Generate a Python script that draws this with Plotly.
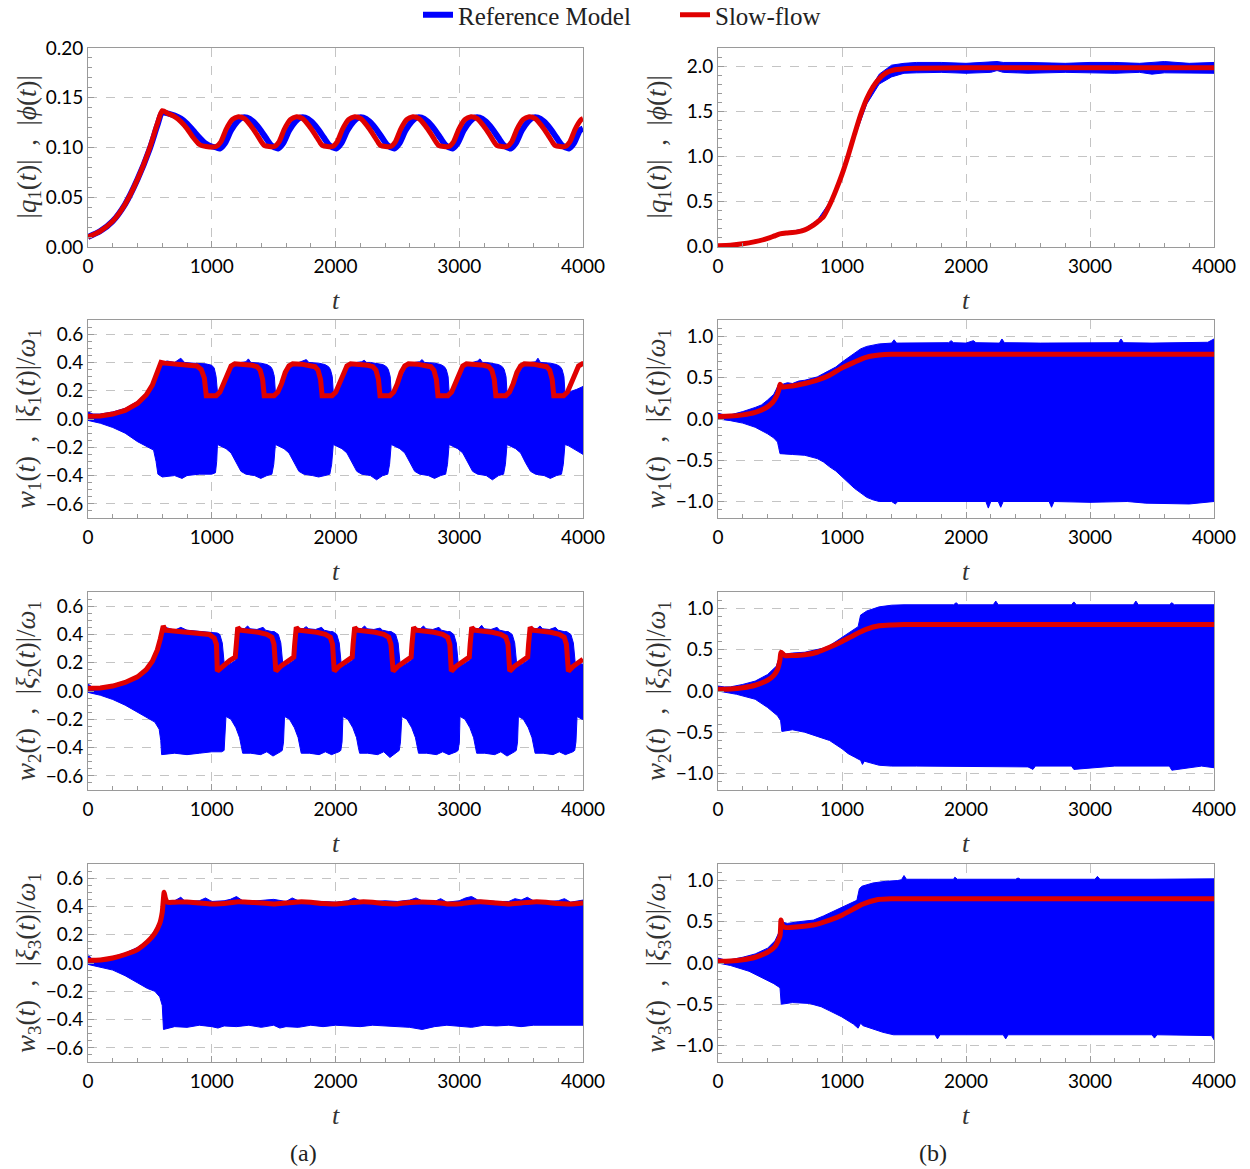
import plotly.graph_objects as go

BLUE = "#0000FF"
RED = "#E00000"

# ---------------- Panel (a), row 1 : |q1(t)| , |phi(t)| ----------------
a1_red_t = [0, 100, 200, 300, 400, 500, 560, 600, 650, 700, 750, 800, 850, 900, 955,
            1035, 1075, 1115, 1165, 1215, 1265, 1315, 1365, 1405, 1425,
            1505, 1545, 1585, 1635, 1685, 1735, 1785, 1835, 1875, 1895,
            1975, 2015, 2055, 2105, 2155, 2205, 2255, 2305, 2345, 2365,
            2445, 2485, 2525, 2575, 2625, 2675, 2725, 2775, 2815, 2835,
            2915, 2955, 2995, 3045, 3095, 3145, 3195, 3245, 3285, 3305,
            3385, 3425, 3465, 3515, 3565, 3615, 3665, 3715, 3755, 3775,
            3855, 3895, 3935, 3985, 4000]
a1_red = [0.010, 0.016, 0.026, 0.043, 0.068, 0.100, 0.124, 0.137, 0.134, 0.131, 0.126, 0.119, 0.110, 0.103, 0.101,
          0.101, 0.106, 0.118, 0.128, 0.131, 0.129, 0.122, 0.113, 0.105, 0.102,
          0.101, 0.106, 0.118, 0.128, 0.131, 0.129, 0.122, 0.113, 0.105, 0.102,
          0.101, 0.106, 0.118, 0.128, 0.131, 0.129, 0.122, 0.113, 0.105, 0.102,
          0.101, 0.106, 0.118, 0.128, 0.131, 0.129, 0.122, 0.113, 0.105, 0.102,
          0.101, 0.106, 0.118, 0.128, 0.131, 0.129, 0.122, 0.113, 0.105, 0.102,
          0.101, 0.106, 0.118, 0.128, 0.131, 0.129, 0.122, 0.113, 0.105, 0.102,
          0.101, 0.106, 0.118, 0.128, 0.129]
a1_blue_t = [0, 100, 200, 300, 400, 500, 560, 600, 650, 700, 750, 800, 850, 900, 950, 1000,
             1040, 1065, 1105, 1155, 1205, 1245, 1285, 1335, 1385, 1435, 1475,
             1510, 1535, 1575, 1625, 1675, 1715, 1755, 1805, 1855, 1905, 1945,
             1980, 2005, 2045, 2095, 2145, 2185, 2225, 2275, 2325, 2375, 2415,
             2450, 2475, 2515, 2565, 2615, 2655, 2695, 2745, 2795, 2845, 2885,
             2920, 2945, 2985, 3035, 3085, 3125, 3165, 3215, 3265, 3315, 3355,
             3390, 3415, 3455, 3505, 3555, 3595, 3635, 3685, 3735, 3785, 3825,
             3860, 3885, 3925, 3975, 4000]
a1_blue = [0.010, 0.016, 0.026, 0.043, 0.068, 0.099, 0.122, 0.135, 0.134, 0.132, 0.129, 0.124, 0.117, 0.110, 0.104, 0.101,
           0.100, 0.099, 0.104, 0.117, 0.126, 0.130, 0.130, 0.126, 0.119, 0.110, 0.103,
           0.100, 0.099, 0.104, 0.117, 0.126, 0.130, 0.130, 0.126, 0.119, 0.110, 0.103,
           0.100, 0.099, 0.104, 0.117, 0.126, 0.130, 0.130, 0.126, 0.119, 0.110, 0.103,
           0.100, 0.099, 0.104, 0.117, 0.126, 0.130, 0.130, 0.126, 0.119, 0.110, 0.103,
           0.100, 0.099, 0.104, 0.117, 0.126, 0.130, 0.130, 0.126, 0.119, 0.110, 0.103,
           0.100, 0.099, 0.104, 0.117, 0.126, 0.130, 0.130, 0.126, 0.119, 0.110, 0.103,
           0.100, 0.099, 0.104, 0.117, 0.119]

# ---------------- Panel (a), row 2 : w1(t) , |xi1(t)|/omega1 ----------------
a2_red_t = [0, 100, 200, 300, 400, 470, 520, 555, 575, 590, 620, 700, 800, 880, 915, 940,
            956, 1036, 1066, 1096, 1126, 1156, 1186, 1256, 1326, 1366, 1391, 1411,
            1424, 1504, 1534, 1564, 1594, 1624, 1654, 1724, 1794, 1834, 1859, 1879,
            1892, 1972, 2002, 2032, 2062, 2092, 2122, 2192, 2262, 2302, 2327, 2347,
            2360, 2440, 2470, 2500, 2530, 2560, 2590, 2660, 2730, 2770, 2795, 2815,
            2828, 2908, 2938, 2968, 2998, 3028, 3058, 3128, 3198, 3238, 3263, 3283,
            3296, 3376, 3406, 3436, 3466, 3496, 3526, 3596, 3666, 3706, 3731, 3751,
            3764, 3844, 3874, 3904, 3934, 3964, 3994, 4000]
a2_red = [0.02, 0.022, 0.035, 0.06, 0.11, 0.17, 0.24, 0.31, 0.37, 0.40, 0.395, 0.39, 0.385, 0.375, 0.35, 0.29,
          0.165, 0.165, 0.19, 0.25, 0.33, 0.375, 0.39, 0.388, 0.38, 0.37, 0.345, 0.28,
          0.165, 0.165, 0.19, 0.25, 0.33, 0.375, 0.39, 0.388, 0.38, 0.37, 0.345, 0.28,
          0.165, 0.165, 0.19, 0.25, 0.33, 0.375, 0.39, 0.388, 0.38, 0.37, 0.345, 0.28,
          0.165, 0.165, 0.19, 0.25, 0.33, 0.375, 0.39, 0.388, 0.38, 0.37, 0.345, 0.28,
          0.165, 0.165, 0.19, 0.25, 0.33, 0.375, 0.39, 0.388, 0.38, 0.37, 0.345, 0.28,
          0.165, 0.165, 0.19, 0.25, 0.33, 0.375, 0.39, 0.388, 0.38, 0.37, 0.345, 0.28,
          0.165, 0.165, 0.19, 0.25, 0.33, 0.375, 0.39, 0.39]
a2_up_t = [0, 40, 100, 200, 300, 400, 470, 520, 560, 585, 640, 700, 750, 780, 850, 950, 1000, 1020, 1035,
           1046, 1076, 1106, 1136, 1166, 1196, 1236, 1276, 1296, 1316, 1346, 1396, 1446, 1476, 1491, 1506,
           1514, 1544, 1574, 1604, 1634, 1664, 1704, 1744, 1764, 1784, 1814, 1864, 1914, 1944, 1959, 1974,
           1982, 2012, 2042, 2072, 2102, 2132, 2172, 2212, 2232, 2252, 2282, 2332, 2382, 2412, 2427, 2442,
           2450, 2480, 2510, 2540, 2570, 2600, 2640, 2680, 2700, 2720, 2750, 2800, 2850, 2880, 2895, 2910,
           2918, 2948, 2978, 3008, 3038, 3068, 3108, 3148, 3168, 3188, 3218, 3268, 3318, 3348, 3363, 3378,
           3386, 3416, 3446, 3476, 3506, 3536, 3576, 3616, 3636, 3656, 3686, 3736, 3786, 3816, 3831, 3846,
           3854, 3900, 3950, 4000]
a2_up = [0.05, 0.035, 0.035, 0.05, 0.075, 0.125, 0.185, 0.26, 0.34, 0.40, 0.41, 0.40, 0.43, 0.40, 0.395, 0.39, 0.38, 0.36, 0.30,
         0.19, 0.20, 0.24, 0.31, 0.36, 0.385, 0.40, 0.405, 0.425, 0.40, 0.40, 0.395, 0.385, 0.37, 0.35, 0.30,
         0.19, 0.20, 0.24, 0.31, 0.36, 0.385, 0.40, 0.41, 0.42, 0.40, 0.40, 0.395, 0.385, 0.37, 0.35, 0.30,
         0.19, 0.20, 0.24, 0.31, 0.36, 0.385, 0.40, 0.405, 0.415, 0.40, 0.40, 0.395, 0.385, 0.37, 0.35, 0.30,
         0.19, 0.20, 0.24, 0.31, 0.36, 0.385, 0.40, 0.405, 0.42, 0.40, 0.40, 0.395, 0.385, 0.37, 0.35, 0.30,
         0.19, 0.20, 0.24, 0.31, 0.36, 0.385, 0.40, 0.41, 0.425, 0.40, 0.40, 0.395, 0.385, 0.37, 0.35, 0.30,
         0.19, 0.20, 0.24, 0.31, 0.36, 0.385, 0.40, 0.405, 0.43, 0.40, 0.40, 0.395, 0.385, 0.37, 0.35, 0.30,
         0.19, 0.195, 0.21, 0.23]
a2_lo_t = [0, 100, 200, 300, 400, 460, 530, 550, 565, 600, 700, 760, 800, 900, 1000, 1030, 1040,
           1046, 1076, 1116, 1156, 1196, 1236, 1276, 1346, 1396, 1446, 1486, 1501,
           1514, 1544, 1584, 1624, 1664, 1704, 1744, 1814, 1864, 1914, 1954, 1969,
           1982, 2012, 2052, 2092, 2132, 2172, 2212, 2282, 2332, 2382, 2422, 2437,
           2450, 2480, 2520, 2560, 2600, 2640, 2680, 2750, 2800, 2850, 2890, 2905,
           2918, 2948, 2988, 3028, 3068, 3108, 3148, 3218, 3268, 3318, 3358, 3373,
           3386, 3416, 3456, 3496, 3536, 3576, 3616, 3686, 3736, 3786, 3826, 3841,
           3854, 3884, 3924, 3964, 4000]
a2_lo = [-0.01, -0.03, -0.06, -0.10, -0.16, -0.19, -0.22, -0.30, -0.39, -0.41, -0.40, -0.42, -0.40, -0.39, -0.39, -0.38, -0.30,
         -0.18, -0.19, -0.21, -0.24, -0.31, -0.37, -0.39, -0.40, -0.42, -0.40, -0.39, -0.32,
         -0.18, -0.19, -0.21, -0.24, -0.31, -0.37, -0.39, -0.40, -0.41, -0.40, -0.39, -0.32,
         -0.18, -0.19, -0.21, -0.24, -0.31, -0.37, -0.39, -0.40, -0.43, -0.40, -0.39, -0.32,
         -0.18, -0.19, -0.21, -0.24, -0.31, -0.37, -0.39, -0.40, -0.42, -0.40, -0.39, -0.32,
         -0.18, -0.19, -0.21, -0.24, -0.31, -0.37, -0.39, -0.40, -0.43, -0.40, -0.39, -0.32,
         -0.18, -0.19, -0.21, -0.24, -0.31, -0.37, -0.39, -0.40, -0.42, -0.40, -0.39, -0.32,
         -0.18, -0.19, -0.21, -0.23, -0.25]

# ---------------- Panel (a), row 3 : w2(t) , |xi2(t)|/omega1 ----------------
a3_red_t = [0, 100, 200, 300, 400, 470, 520, 560, 585, 600, 608, 625, 700, 800, 900, 980, 1020, 1038,
            1045, 1085, 1145, 1190, 1197, 1203, 1210, 1230, 1295, 1375, 1445, 1485, 1503,
            1518, 1558, 1618, 1663, 1670, 1676, 1683, 1703, 1768, 1848, 1918, 1958, 1976,
            1990, 2030, 2090, 2135, 2142, 2148, 2155, 2175, 2240, 2320, 2390, 2430, 2448,
            2466, 2506, 2566, 2611, 2618, 2624, 2631, 2651, 2716, 2796, 2866, 2906, 2924,
            2936, 2976, 3036, 3081, 3088, 3094, 3101, 3121, 3186, 3266, 3336, 3376, 3394,
            3408, 3448, 3508, 3553, 3560, 3566, 3573, 3593, 3658, 3738, 3808, 3848, 3866,
            3882, 3922, 3982, 4000]
a3_red = [0.02, 0.022, 0.035, 0.06, 0.10, 0.15, 0.21, 0.29, 0.37, 0.44, 0.46, 0.43, 0.425, 0.42, 0.41, 0.40, 0.375, 0.33,
          0.14, 0.175, 0.215, 0.24, 0.33, 0.42, 0.45, 0.43, 0.425, 0.415, 0.40, 0.38, 0.33,
          0.14, 0.175, 0.215, 0.24, 0.33, 0.42, 0.45, 0.43, 0.425, 0.415, 0.40, 0.38, 0.33,
          0.14, 0.175, 0.215, 0.24, 0.33, 0.42, 0.45, 0.43, 0.425, 0.415, 0.40, 0.38, 0.33,
          0.14, 0.175, 0.215, 0.24, 0.33, 0.42, 0.45, 0.43, 0.425, 0.415, 0.40, 0.38, 0.33,
          0.14, 0.175, 0.215, 0.24, 0.33, 0.42, 0.45, 0.43, 0.425, 0.415, 0.40, 0.38, 0.33,
          0.14, 0.175, 0.215, 0.24, 0.33, 0.42, 0.45, 0.43, 0.425, 0.415, 0.40, 0.38, 0.33,
          0.14, 0.175, 0.215, 0.225]
a3_up_t = [0, 30, 100, 200, 300, 400, 470, 520, 560, 590, 610, 700, 750, 800, 900, 1000, 1045,
           1065, 1085, 1100, 1145, 1190, 1205, 1215, 1230, 1265, 1290, 1310, 1365, 1415, 1435, 1485, 1505,
           1538, 1558, 1573, 1618, 1663, 1678, 1688, 1703, 1738, 1763, 1783, 1838, 1888, 1908, 1958, 1978,
           2010, 2030, 2045, 2090, 2135, 2150, 2160, 2175, 2210, 2235, 2255, 2310, 2360, 2380, 2430, 2450,
           2486, 2506, 2521, 2566, 2611, 2626, 2636, 2651, 2686, 2711, 2731, 2786, 2836, 2856, 2906, 2926,
           2956, 2976, 2991, 3036, 3081, 3096, 3106, 3121, 3156, 3181, 3201, 3256, 3306, 3326, 3376, 3396,
           3428, 3448, 3463, 3508, 3553, 3568, 3578, 3593, 3628, 3653, 3673, 3728, 3778, 3798, 3848, 3868,
           3902, 3922, 3937, 3982, 4000]
a3_up = [0.05, 0.03, 0.03, 0.045, 0.07, 0.11, 0.16, 0.22, 0.30, 0.40, 0.455, 0.43, 0.45, 0.43, 0.42, 0.41, 0.41,
         0.40, 0.34, 0.20, 0.19, 0.215, 0.30, 0.41, 0.445, 0.44, 0.46, 0.44, 0.435, 0.45, 0.43, 0.42, 0.42,
         0.40, 0.34, 0.20, 0.19, 0.215, 0.30, 0.41, 0.445, 0.44, 0.455, 0.44, 0.435, 0.45, 0.43, 0.42, 0.42,
         0.40, 0.34, 0.20, 0.19, 0.215, 0.30, 0.41, 0.445, 0.44, 0.46, 0.44, 0.435, 0.445, 0.43, 0.42, 0.42,
         0.40, 0.34, 0.20, 0.19, 0.215, 0.30, 0.41, 0.445, 0.44, 0.46, 0.44, 0.435, 0.45, 0.43, 0.42, 0.42,
         0.40, 0.34, 0.20, 0.19, 0.215, 0.30, 0.41, 0.445, 0.44, 0.465, 0.44, 0.435, 0.45, 0.43, 0.42, 0.42,
         0.40, 0.34, 0.20, 0.19, 0.215, 0.30, 0.41, 0.445, 0.44, 0.46, 0.44, 0.435, 0.45, 0.43, 0.42, 0.42,
         0.40, 0.34, 0.20, 0.19, 0.19]
a3_lo_t = [0, 100, 200, 300, 400, 480, 540, 575, 588, 595, 700, 800, 900, 1000, 1080, 1100, 1108,
           1115, 1155, 1195, 1225, 1240, 1250, 1315, 1395, 1445, 1495, 1555, 1570, 1580,
           1588, 1628, 1668, 1698, 1713, 1723, 1788, 1868, 1918, 1968, 2028, 2043, 2053,
           2060, 2100, 2140, 2170, 2185, 2195, 2260, 2340, 2390, 2440, 2500, 2515, 2525,
           2536, 2576, 2616, 2646, 2661, 2671, 2736, 2816, 2866, 2916, 2976, 2991, 3001,
           3006, 3046, 3086, 3116, 3131, 3141, 3206, 3286, 3336, 3386, 3446, 3461, 3471,
           3478, 3518, 3558, 3588, 3603, 3613, 3678, 3758, 3808, 3858, 3918, 3933, 3943,
           3952, 3992, 4000]
a3_lo = [-0.01, -0.03, -0.06, -0.10, -0.15, -0.19, -0.22, -0.27, -0.35, -0.45, -0.44, -0.45, -0.44, -0.43, -0.43, -0.42, -0.35,
         -0.18, -0.20, -0.26, -0.33, -0.40, -0.44, -0.44, -0.45, -0.43, -0.46, -0.43, -0.42, -0.36,
         -0.18, -0.20, -0.26, -0.33, -0.40, -0.44, -0.44, -0.45, -0.43, -0.45, -0.43, -0.42, -0.36,
         -0.18, -0.20, -0.26, -0.33, -0.40, -0.44, -0.44, -0.45, -0.43, -0.47, -0.43, -0.42, -0.36,
         -0.18, -0.20, -0.26, -0.33, -0.40, -0.44, -0.44, -0.45, -0.43, -0.45, -0.43, -0.42, -0.36,
         -0.18, -0.20, -0.26, -0.33, -0.40, -0.44, -0.44, -0.45, -0.43, -0.46, -0.43, -0.42, -0.36,
         -0.18, -0.20, -0.26, -0.33, -0.40, -0.44, -0.44, -0.45, -0.43, -0.45, -0.43, -0.42, -0.36,
         -0.18, -0.20, -0.20]

# ---------------- Panel (a), row 4 : w3(t) , |xi3(t)|/omega1 ----------------
a4_red_t = [0, 100, 200, 300, 400, 480, 540, 580, 600, 610, 615, 625, 640, 700, 800, 900, 1000, 1100, 1200,
            1300, 1400, 1500, 1600, 1700, 1800, 1900, 2000, 2100, 2200, 2300, 2400, 2500, 2600, 2700,
            2800, 2900, 3000, 3100, 3200, 3300, 3400, 3500, 3600, 3700, 3800, 3900, 4000]
a4_red = [0.02, 0.022, 0.035, 0.06, 0.095, 0.15, 0.21, 0.28, 0.36, 0.46, 0.50, 0.46, 0.43, 0.43, 0.432, 0.425, 0.418, 0.42, 0.432,
          0.43, 0.425, 0.418, 0.425, 0.432, 0.43, 0.42, 0.418, 0.425, 0.432, 0.43, 0.42, 0.418, 0.428, 0.432,
          0.428, 0.418, 0.418, 0.43, 0.432, 0.425, 0.418, 0.425, 0.432, 0.43, 0.42, 0.418, 0.425]
a4_up_t = [0, 30, 100, 200, 300, 400, 480, 540, 580, 600, 610, 640, 700, 750, 780, 800, 900, 950, 1000, 1100,
           1150, 1200, 1250, 1300, 1400, 1500, 1600, 1650, 1700, 1800, 1900, 2000, 2100, 2150, 2200, 2300,
           2400, 2500, 2600, 2650, 2700, 2800, 2850, 2900, 3000, 3050, 3100, 3150, 3200, 3300, 3400, 3450,
           3500, 3550, 3600, 3700, 3800, 3850, 3900, 4000]
a4_up = [0.06, 0.03, 0.03, 0.045, 0.07, 0.11, 0.16, 0.23, 0.30, 0.38, 0.42, 0.44, 0.44, 0.465, 0.44, 0.435, 0.44, 0.46, 0.435, 0.44,
         0.45, 0.47, 0.44, 0.435, 0.44, 0.45, 0.435, 0.46, 0.44, 0.44, 0.435, 0.43, 0.44, 0.46, 0.44, 0.435,
         0.44, 0.435, 0.445, 0.46, 0.44, 0.435, 0.455, 0.43, 0.44, 0.46, 0.47, 0.445, 0.44, 0.435, 0.435, 0.455,
         0.445, 0.465, 0.44, 0.435, 0.44, 0.455, 0.43, 0.445]
a4_lo_t = [0, 100, 200, 300, 400, 480, 540, 580, 600, 610, 700, 800, 900, 1000, 1050, 1100, 1200, 1300, 1400,
           1500, 1550, 1600, 1700, 1800, 1900, 2000, 2100, 2200, 2300, 2400, 2500, 2600, 2700, 2800, 2900,
           3000, 3100, 3200, 3300, 3400, 3500, 3600, 3700, 3800, 3900, 4000]
a4_lo = [-0.01, -0.03, -0.05, -0.09, -0.14, -0.18, -0.20, -0.24, -0.30, -0.47, -0.45, -0.455, -0.44, -0.45, -0.46, -0.445, -0.45, -0.44, -0.455,
         -0.44, -0.46, -0.45, -0.455, -0.44, -0.45, -0.44, -0.445, -0.45, -0.44, -0.45, -0.45, -0.455, -0.47, -0.45, -0.44,
         -0.445, -0.455, -0.44, -0.445, -0.44, -0.45, -0.44, -0.445, -0.44, -0.44, -0.44]

# ---------------- Panel (b), row 1 ----------------
b1_red_t = [0, 100, 200, 300, 400, 450, 500, 550, 600, 650, 700, 750, 800, 850, 900, 950, 1000, 1050,
            1100, 1150, 1200, 1250, 1300, 1350, 1400, 1500, 1600, 2000, 3000, 4000]
b1_red = [0.01, 0.015, 0.03, 0.055, 0.09, 0.115, 0.14, 0.15, 0.155, 0.165, 0.185, 0.22, 0.27, 0.33, 0.46, 0.62, 0.80, 1.01,
          1.24, 1.46, 1.64, 1.77, 1.86, 1.92, 1.95, 1.97, 1.975, 1.98, 1.98, 1.98]
b1_up_t = [0, 200, 400, 500, 600, 700, 800, 900, 1000, 1100, 1200, 1300, 1400, 1500, 1600, 1800, 2000,
           2200, 2250, 2300, 2500, 2800, 3000, 3200, 3400, 3500, 3600, 3800, 4000]
b1_up = [0.02, 0.04, 0.10, 0.15, 0.17, 0.20, 0.29, 0.49, 0.83, 1.28, 1.68, 1.91, 2.01, 2.03, 2.04, 2.04, 2.03,
         2.04, 2.05, 2.04, 2.04, 2.03, 2.04, 2.04, 2.03, 2.04, 2.05, 2.03, 2.04]
b1_lo_t = [0, 200, 400, 500, 600, 700, 800, 900, 1000, 1100, 1200, 1300, 1400, 1500, 1600, 1800, 2000,
           2200, 2250, 2300, 2500, 2800, 3000, 3200, 3400, 3500, 3600, 3800, 4000]
b1_lo = [0.0, 0.02, 0.08, 0.13, 0.145, 0.17, 0.25, 0.43, 0.77, 1.20, 1.58, 1.80, 1.88, 1.92, 1.925, 1.93, 1.92,
         1.93, 1.95, 1.93, 1.92, 1.93, 1.925, 1.92, 1.93, 1.91, 1.925, 1.92, 1.92]

# ---------------- Panel (b), row 2 ----------------
b2_red_t = [0, 100, 200, 300, 380, 440, 470, 490, 500, 520, 600, 700, 800, 900, 1000, 1100, 1200, 1300, 1400, 1500, 4000]
b2_red = [0.03, 0.035, 0.05, 0.08, 0.13, 0.20, 0.27, 0.35, 0.42, 0.39, 0.40, 0.43, 0.47, 0.53, 0.62, 0.69, 0.75, 0.775, 0.785, 0.785, 0.785]
b2_up_t = [0, 50, 100, 200, 300, 350, 400, 450, 490, 520, 560, 600, 650, 700, 750, 800, 850, 900, 950, 1000,
           1050, 1100, 1150, 1200, 1300, 1400, 1420, 1440, 1600, 1860, 1880, 1900, 2000, 2060, 2080, 2270,
           2290, 2310, 2600, 3000, 3230, 3250, 3270, 3500, 3800, 3950, 4000]
b2_up = [0.07, 0.05, 0.05, 0.09, 0.14, 0.17, 0.23, 0.30, 0.42, 0.42, 0.44, 0.43, 0.46, 0.47, 0.49, 0.51, 0.55, 0.59, 0.63, 0.69,
         0.74, 0.80, 0.85, 0.88, 0.91, 0.92, 0.96, 0.92, 0.925, 0.925, 0.95, 0.925, 0.92, 0.95, 0.925, 0.92,
         0.97, 0.925, 0.92, 0.925, 0.925, 0.97, 0.925, 0.92, 0.925, 0.93, 0.97]
b2_lo_t = [0, 100, 200, 300, 400, 450, 480, 490, 500, 600, 700, 800, 850, 900, 950, 1000, 1050, 1100, 1150,
           1200, 1250, 1300, 1400, 1430, 1450, 2160, 2180, 2200, 2260, 2280, 2300, 2670, 2690, 2710, 3000,
           3300, 3450, 3800, 4000]
b2_lo = [0.0, -0.02, -0.05, -0.10, -0.18, -0.23, -0.28, -0.35, -0.42, -0.43, -0.44, -0.48, -0.52, -0.58, -0.63, -0.70, -0.77, -0.84, -0.90,
         -0.95, -0.98, -1.0, -1.0, -1.03, -1.0, -1.0, -1.08, -1.0, -1.0, -1.07, -1.0, -1.0, -1.07, -1.0, -1.01,
         -1.0, -1.02, -1.03, -1.0]

# ---------------- Panel (b), row 3 ----------------
b3_red_t = [0, 100, 200, 300, 400, 450, 480, 500, 508, 540, 600, 700, 800, 900, 1000, 1100, 1200, 1300, 1400, 1500, 4000]
b3_red = [0.02, 0.025, 0.04, 0.07, 0.13, 0.19, 0.26, 0.38, 0.47, 0.43, 0.43, 0.44, 0.47, 0.53, 0.60, 0.68, 0.75, 0.79, 0.80, 0.805, 0.805]
b3_up_t = [0, 50, 100, 200, 300, 400, 470, 500, 510, 550, 600, 700, 800, 850, 900, 950, 1000, 1050, 1100, 1130,
           1150, 1200, 1300, 1400, 1500, 1900, 1920, 1940, 2220, 2240, 2260, 2850, 2870, 2890, 3350, 3370,
           3390, 3640, 3660, 3680, 4000]
b3_up = [0.06, 0.05, 0.05, 0.08, 0.12, 0.20, 0.30, 0.42, 0.48, 0.45, 0.46, 0.47, 0.50, 0.52, 0.55, 0.60, 0.65, 0.70, 0.75, 0.78,
         0.92, 0.97, 1.02, 1.04, 1.045, 1.045, 1.07, 1.045, 1.045, 1.09, 1.045, 1.045, 1.08, 1.045, 1.045, 1.09,
         1.045, 1.045, 1.07, 1.045, 1.045]
b3_lo_t = [0, 150, 300, 400, 480, 505, 515, 600, 700, 800, 900, 950, 1000, 1050, 1100, 1150, 1165, 1180, 1250,
           1300, 1400, 1600, 2000, 2500, 2540, 2560, 2850, 2870, 3200, 3640, 3660, 3900, 4000]
b3_lo = [0.0, -0.04, -0.10, -0.20, -0.30, -0.36, -0.49, -0.47, -0.50, -0.55, -0.60, -0.65, -0.70, -0.76, -0.80, -0.84, -0.89, -0.85, -0.88,
         -0.90, -0.91, -0.91, -0.91, -0.92, -0.95, -0.91, -0.91, -0.95, -0.91, -0.91, -0.96, -0.91, -0.93]

# ---------------- Panel (b), row 4 ----------------
b4_red_t = [0, 100, 200, 300, 400, 460, 500, 508, 518, 545, 650, 770, 900, 1000, 1100, 1160, 1290, 1400, 4000]
b4_red = [0.02, 0.025, 0.04, 0.07, 0.13, 0.20, 0.33, 0.52, 0.46, 0.43, 0.44, 0.46, 0.52, 0.58, 0.66, 0.71, 0.77, 0.78, 0.78]
b4_up_t = [0, 50, 100, 200, 300, 400, 460, 500, 510, 560, 650, 770, 850, 950, 1050, 1120, 1140, 1160, 1250, 1350,
           1450, 1480, 1500, 1520, 1700, 1900, 1910, 1930, 2400, 2420, 2440, 3040, 3060, 3080, 3500, 4000]
b4_up = [0.06, 0.04, 0.04, 0.07, 0.11, 0.18, 0.27, 0.40, 0.50, 0.48, 0.50, 0.52, 0.57, 0.64, 0.72, 0.76, 0.90, 0.93, 0.97, 0.99,
         1.0, 1.01, 1.06, 1.015, 1.015, 1.015, 1.04, 1.015, 1.015, 1.03, 1.015, 1.015, 1.05, 1.015, 1.015, 1.02]
b4_lo_t = [0, 100, 250, 350, 450, 500, 510, 600, 736, 832, 900, 995, 1092, 1130, 1150, 1170, 1250, 1330, 1415,
           1500, 1750, 1770, 1790, 2300, 2320, 2340, 3000, 3500, 3520, 3540, 3980, 4000]
b4_lo = [0.0, -0.03, -0.10, -0.17, -0.25, -0.30, -0.50, -0.48, -0.49, -0.53, -0.58, -0.65, -0.74, -0.79, -0.73, -0.76, -0.80, -0.84, -0.87,
         -0.87, -0.87, -0.92, -0.87, -0.87, -0.92, -0.87, -0.87, -0.87, -0.91, -0.87, -0.88, -0.93]

# ---------------- axis labels / ticks ----------------
x_ticks = [0, 1000, 2000, 3000, 4000]
y_ticks_a1 = [0.00, 0.05, 0.10, 0.15, 0.20]
y_ticks_a = [-0.6, -0.4, -0.2, 0.0, 0.2, 0.4, 0.6]
y_ticks_b = [-1.0, -0.5, 0.0, 0.5, 1.0]
y_ticks_b1 = [0.0, 0.5, 1.0, 1.5, 2.0]

ytitle_1 = "|<i>q</i><sub>1</sub>(<i>t</i>)| &nbsp;, &nbsp;|<i>ϕ</i>(<i>t</i>)|"
ytitle_n = "<i>w</i><sub>{k}</sub>(<i>t</i>) &nbsp;, &nbsp;|<i>ξ</i><sub>{k}</sub>(<i>t</i>)|/<i>ω</i><sub>1</sub>"

# the page's body margin is removed (see post_script), so figure pixels = page pixels
W, H = 1250, 1169
col_px = [(88, 583), (718, 1214)]
row_px = [(48, 247), (320, 518), (592, 790), (864, 1062)]


def px_x(v):
    return v / W


def px_y(v):
    return 1 - v / H


TICKFONT = dict(family="Lato, 'Open Sans', sans-serif", size=19, color="black")
SERIF = "'Liberation Serif', 'DejaVu Serif', serif"

fig = go.Figure()

# (col, row, kind, blue data, red data, y range, y ticks, y format, y minor step, y title, smooth red)
panels = [
    (0, 0, "line", (a1_blue_t, a1_blue), (a1_red_t, a1_red), [0, 0.2], y_ticks_a1, ".2f", 0.01, ytitle_1, True),
    (1, 0, "band", (b1_up_t, b1_up, b1_lo_t, b1_lo), (b1_red_t, b1_red), [-0.005, 2.2], y_ticks_b1, ".1f", 0.1, ytitle_1, True),
    (0, 1, "band", (a2_up_t, a2_up, a2_lo_t, a2_lo), (a2_red_t, a2_red), [-0.7, 0.7], y_ticks_a, ".1f", 0.05, ytitle_n.format(k=1), False),
    (1, 1, "band", (b2_up_t, b2_up, b2_lo_t, b2_lo), (b2_red_t, b2_red), [-1.2, 1.2], y_ticks_b, ".1f", 0.1, ytitle_n.format(k=1), True),
    (0, 2, "band", (a3_up_t, a3_up, a3_lo_t, a3_lo), (a3_red_t, a3_red), [-0.7, 0.7], y_ticks_a, ".1f", 0.05, ytitle_n.format(k=2), False),
    (1, 2, "band", (b3_up_t, b3_up, b3_lo_t, b3_lo), (b3_red_t, b3_red), [-1.2, 1.2], y_ticks_b, ".1f", 0.1, ytitle_n.format(k=2), True),
    (0, 3, "band", (a4_up_t, a4_up, a4_lo_t, a4_lo), (a4_red_t, a4_red), [-0.7, 0.7], y_ticks_a, ".1f", 0.05, ytitle_n.format(k=3), True),
    (1, 3, "band", (b4_up_t, b4_up, b4_lo_t, b4_lo), (b4_red_t, b4_red), [-1.2, 1.2], y_ticks_b, ".1f", 0.1, ytitle_n.format(k=3), True),
]

layout = {}
annotations = []
for i, (c, r, kind, blue, red, yr, yt, yfmt, yminor, ytitle, smooth) in enumerate(panels):
    n = i + 1
    xa = "x" if n == 1 else f"x{n}"
    ya = "y" if n == 1 else f"y{n}"
    if kind == "line":
        fig.add_trace(go.Scatter(x=blue[0], y=blue[1], mode="lines", xaxis=xa, yaxis=ya,
                                 line=dict(color=BLUE, width=6, shape="spline", smoothing=0.8),
                                 name="Reference Model", showlegend=True, legendrank=1))
    else:
        tu, up, tl, lo = blue
        fig.add_trace(go.Scatter(x=list(tu) + list(tl)[::-1], y=list(up) + list(lo)[::-1],
                                 mode="lines", fill="toself", fillcolor=BLUE, xaxis=xa, yaxis=ya,
                                 line=dict(color=BLUE, width=1), showlegend=False, hoverinfo="skip"))
    red_line = dict(color=RED, width=5)
    if smooth:
        red_line.update(shape="spline", smoothing=0.6)
    fig.add_trace(go.Scatter(x=red[0], y=red[1], mode="lines", xaxis=xa, yaxis=ya,
                             line=red_line, name="Slow-flow",
                             showlegend=(n == 1), legendrank=2))

    x0, x1 = col_px[c]
    y0, y1 = row_px[r]
    xdom = [px_x(x0), px_x(x1)]
    ydom = [px_y(y1), px_y(y0)]
    common = dict(showline=True, linecolor="#9a9a9a", linewidth=1, mirror=True,
                  showgrid=True, gridcolor="#c4c4c4", griddash="dash", gridwidth=1,
                  zeroline=False, ticks="inside", ticklen=6, tickcolor="#9a9a9a",
                  tickfont=TICKFONT, automargin=False)
    layout["xaxis" if n == 1 else f"xaxis{n}"] = dict(
        domain=xdom, anchor=ya, range=[0, 4000], tickvals=x_ticks,
        minor=dict(ticks="inside", dtick=200, ticklen=4, tickcolor="#9a9a9a", showgrid=False),
        ticklabelstandoff=2, **common)
    layout["yaxis" if n == 1 else f"yaxis{n}"] = dict(
        domain=ydom, anchor=xa, range=yr, tickvals=yt, tickformat=yfmt,
        minor=dict(ticks="inside", dtick=yminor, ticklen=4, tickcolor="#9a9a9a", showgrid=False),
        ticklabelstandoff=0, **common)

    annotations.append(dict(text="<i>t</i>", xref="paper", yref="paper",
                            x=px_x((x0 + x1) / 2), y=px_y(y1 + 53), showarrow=False,
                            font=dict(family=SERIF, size=26, color="#333333"),
                            xanchor="center", yanchor="middle"))
    annotations.append(dict(text=ytitle, xref="paper", yref="paper", textangle=-90,
                            x=px_x(x0 - 60), y=px_y((y0 + y1) / 2), showarrow=False,
                            font=dict(family=SERIF, size=27, color="#333333"),
                            xanchor="center", yanchor="middle"))

annotations.append(dict(text="(a)", xref="paper", yref="paper", x=px_x(303), y=px_y(1153),
                        showarrow=False, font=dict(family=SERIF, size=24, color="#222222"),
                        xanchor="center", yanchor="middle"))
annotations.append(dict(text="(b)", xref="paper", yref="paper", x=px_x(933), y=px_y(1153),
                        showarrow=False, font=dict(family=SERIF, size=24, color="#222222"),
                        xanchor="center", yanchor="middle"))

fig.update_layout(
    width=W, height=H,
    margin=dict(l=0, r=0, t=0, b=0, autoexpand=False),
    paper_bgcolor="white", plot_bgcolor="white",
    showlegend=True,
    legend=dict(orientation="h", x=px_x(418), xanchor="left", y=px_y(15), yanchor="middle",
                font=dict(family=SERIF, size=25, color="#222222"),
                bgcolor="rgba(0,0,0,0)", traceorder="normal", itemwidth=30,
                entrywidth=212, entrywidthmode="pixels", tracegroupgap=0),
    annotations=annotations,
    **layout,
)

fig.write_html("out.html", config={"displayModeBar": False},
               post_script="document.body.style.margin='0';")
